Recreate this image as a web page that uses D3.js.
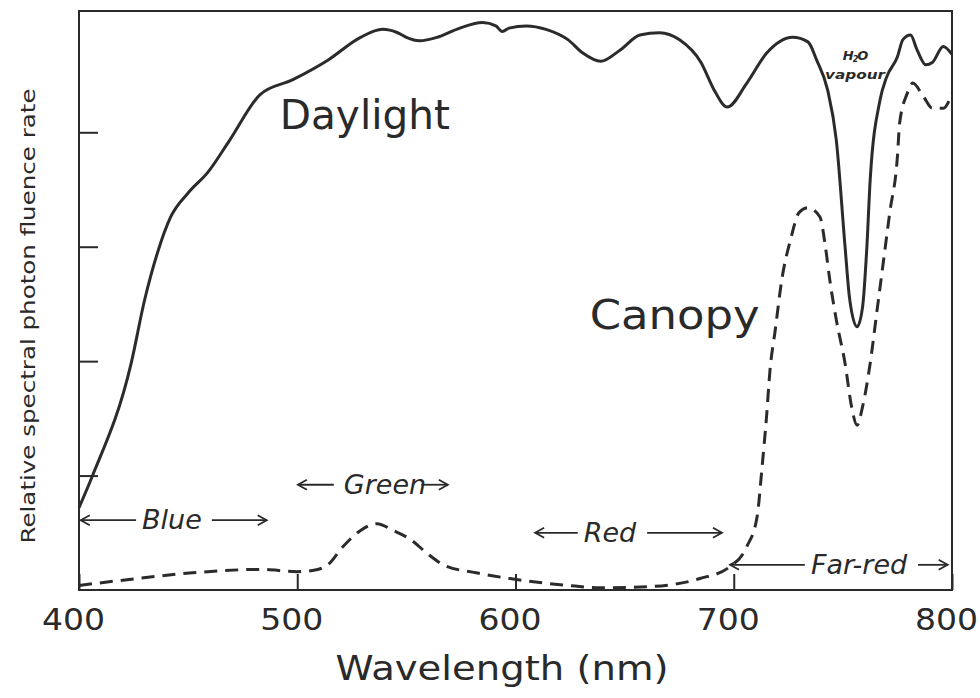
<!DOCTYPE html>
<html>
<head>
<meta charset="utf-8">
<script src="https://cdn.jsdelivr.net/npm/d3@7"></script>
<style>
    body { margin: 0; background: #ffffff; }
    svg { display: block; font-family: "DejaVu Sans", sans-serif; }
    .frame { fill: none; stroke: #2a2a2a; stroke-width: 2; }
    .axis path { display: none; }
    .axis line { stroke: #2a2a2a; stroke-width: 2; }
    .axis text { fill: #2a2a2a; font-size: 30px; font-family: "DejaVu Sans", sans-serif; }
    .daylight { fill: none; stroke: #2b2b2b; stroke-width: 3; }
    .canopy { fill: none; stroke: #2b2b2b; stroke-width: 3; stroke-dasharray: 13, 8; }
    .band { fill: #2a2a2a; font-size: 27px; font-style: italic; }
    .arrow { stroke: #2a2a2a; stroke-width: 1.8; fill: none; }
</style>
</head>
<body>
<div id="chart"></div>
<script>

/*  ****************
    DATA FROM THE PICTURE
    **************** */

// Daylight spectrum (solid line): wavelength in nm and relative value
var dayNm = [400, 406, 424, 430, 436, 442, 450, 459, 469, 483, 498, 514, 529, 539,
    546, 550, 556, 564, 573, 585, 591, 594, 597, 605, 614, 624, 631, 639, 648, 657,
    666, 675, 685, 691, 697, 706, 715, 727, 734, 738, 743, 747, 751, 753, 756.5,
    759, 761, 762.5, 767, 770, 775, 777.5, 781, 784, 788, 791, 796, 800];
var dayVal = [0.72, 0.99, 1.99, 2.53, 2.95, 3.26, 3.47, 3.65, 3.93, 4.33, 4.46, 4.63, 4.83, 4.90,
    4.87, 4.83, 4.80, 4.83, 4.90, 4.96, 4.93, 4.88, 4.91, 4.93, 4.90, 4.81, 4.69, 4.62, 4.72, 4.85,
    4.87, 4.81, 4.61, 4.37, 4.22, 4.43, 4.69, 4.83, 4.79, 4.63, 4.37, 3.93, 3.00, 2.56, 2.30,
    2.47, 3.00, 3.58, 4.28, 4.48, 4.66, 4.81, 4.85, 4.72, 4.59, 4.61, 4.75, 4.68];

// Canopy spectrum (dashed line)
var canNm = [400, 422, 452, 483, 500, 507, 514, 521, 529, 536.5, 544, 552, 559.5, 567,
    582, 597.5, 624, 639, 662, 684.5, 698, 706, 710.7, 713, 715, 716.6, 719, 722, 726,
    730, 734, 739.5, 742, 744, 747, 751, 754, 756.5, 759, 762.5, 765.5, 768.5, 771.5,
    775, 776, 779.5, 782, 787, 791, 796, 800];
var canVal = [0.04, 0.09, 0.15, 0.18, 0.16, 0.17, 0.22, 0.38, 0.52, 0.58, 0.52, 0.44, 0.32, 0.22,
    0.15, 0.10, 0.04, 0.02, 0.03, 0.10, 0.20, 0.38, 0.64, 1.08, 1.51, 1.92, 2.27, 2.71, 3.06,
    3.30, 3.34, 3.26, 3.00, 2.71, 2.36, 1.98, 1.60, 1.44, 1.60, 1.98, 2.42, 2.86, 3.30,
    3.79, 4.08, 4.34, 4.43, 4.31, 4.21, 4.21, 4.34];

// Axis ticks
var xTicks = [400, 500, 600, 700, 800];
var yTicks = [1, 2, 3, 4];

// Colour bands: label, left arrow tip, right arrow tip (nm), label centre (nm), height
var bandNames = ["Blue", "Green", "Red", "Far-red"];
var bandFrom = [400.8, 500.3, 609, 698.3];
var bandTo = [486, 569, 694.6, 798];
var bandTextNm = [442.6, 540.2, 643.3, 757.4];
var bandLevel = [0.61, 0.92, 0.50, 0.22];

/*  *********************************************
    CREATE THE SVG AND CONFIGURE IT FOR THE CHART
    ********************************************* */

var svgWidth = 980;
var svgHeight = 698;

var chartMarg = {
    top: 11,
    bottom: 108,
    right: 28,
    left: 79,
};

var chartWidth = svgWidth - chartMarg.left - chartMarg.right;
var chartHeight = svgHeight - chartMarg.top - chartMarg.bottom;

var svg = d3
    .select("#chart")
    .append("svg")
    .attr("width", svgWidth)
    .attr("height", svgHeight);

var chartGroup = svg.append("g")
    .attr("transform", `translate(${chartMarg.left}, ${chartMarg.top})`);

// Scales
var xScale = d3.scaleLinear().domain([400, 800]).range([0, chartWidth]);
var yScale = d3.scaleLinear().domain([0, 5.06]).range([chartHeight, 0]);

/*  **************************
    AXES AND FRAME
    ************************** */

chartGroup.append("g")
    .attr("class", "axis")
    .attr("transform", `translate(0, ${chartHeight})`)
    .call(d3.axisBottom(xScale).tickValues(xTicks).tickSize(-16).tickPadding(19).tickFormat(d3.format("d")))
    .selectAll("text")
    .attr("x", -6)
    .attr("textLength", 63)
    .attr("lengthAdjust", "spacingAndGlyphs");

chartGroup.append("g")
    .attr("class", "axis")
    .call(d3.axisLeft(yScale).tickValues(yTicks).tickSize(-19).tickFormat(""));

chartGroup.append("rect")
    .attr("class", "frame")
    .attr("x", 0)
    .attr("y", 0)
    .attr("width", chartWidth)
    .attr("height", chartHeight);

// Axis titles
svg.append("text")
    .attr("x", 502)
    .attr("y", 680)
    .attr("text-anchor", "middle")
    .attr("font-size", 34)
    .attr("fill", "#2a2a2a")
    .attr("textLength", 333)
    .attr("lengthAdjust", "spacingAndGlyphs")
    .text("Wavelength (nm)");

svg.append("text")
    .attr("transform", "translate(35, 316) rotate(-90)")
    .attr("text-anchor", "middle")
    .attr("font-size", 20)
    .attr("fill", "#2a2a2a")
    .attr("textLength", 455)
    .attr("lengthAdjust", "spacingAndGlyphs")
    .text("Relative spectral photon fluence rate");

/*  **************************
    PLOT THE TWO SPECTRA
    ************************** */

var line = d3.line()
    .x(d => xScale(d[0]))
    .y(d => yScale(d[1]))
    .curve(d3.curveMonotoneX);

chartGroup.append("path")
    .datum(d3.zip(dayNm, dayVal))
    .attr("class", "daylight")
    .attr("d", line);

chartGroup.append("path")
    .datum(d3.zip(canNm, canVal))
    .attr("class", "canopy")
    .attr("d", line);

// Curve labels
chartGroup.append("text")
    .attr("x", xScale(492))
    .attr("y", yScale(4.03))
    .attr("font-size", 41)
    .attr("fill", "#2a2a2a")
    .attr("textLength", 170)
    .attr("lengthAdjust", "spacingAndGlyphs")
    .text("Daylight");

chartGroup.append("text")
    .attr("x", xScale(634))
    .attr("y", yScale(2.28))
    .attr("font-size", 41)
    .attr("fill", "#2a2a2a")
    .attr("textLength", 170)
    .attr("lengthAdjust", "spacingAndGlyphs")
    .text("Canopy");

// H2O vapour note
var h2o = chartGroup.append("text")
    .attr("x", xScale(755.6))
    .attr("y", yScale(4.63))
    .attr("text-anchor", "middle")
    .attr("font-size", 13)
    .attr("font-weight", "bold")
    .attr("font-style", "italic")
    .attr("fill", "#2a2a2a")
    .attr("letter-spacing", -1);
h2o.append("tspan").text("H");
h2o.append("tspan").attr("font-size", 8).attr("dy", 2).text("2");
h2o.append("tspan").attr("dy", -2).text("O");

chartGroup.append("text")
    .attr("x", xScale(755.6))
    .attr("y", yScale(4.47))
    .attr("text-anchor", "middle")
    .attr("font-size", 13)
    .attr("font-weight", "bold")
    .attr("font-style", "italic")
    .attr("fill", "#2a2a2a")
    .attr("textLength", 60)
    .attr("lengthAdjust", "spacingAndGlyphs")
    .text("vapour");

/*  **************************
    COLOUR BAND ARROWS
    ************************** */

var bandText = chartGroup.selectAll(".band")
    .data(bandNames)
    .enter()
    .append("text")
    .attr("class", "band")
    .attr("x", (d, i) => xScale(bandTextNm[i]))
    .attr("y", (d, i) => yScale(bandLevel[i]) + 9)
    .attr("text-anchor", "middle")
    .text(d => d);

// Work out where each label sits so the arrow shafts stop short of it
bandText.each(function(d, i) {
    var box = this.getBBox();
    var y = yScale(bandLevel[i]);
    var x0 = xScale(bandFrom[i]);
    var x1 = xScale(bandTo[i]);
    var gapL = i === 1 ? 10 : 6;
    var gapR = i === 1 ? -5 : 10;
    var g = chartGroup.append("g").attr("class", "arrow");

    // left shaft and head
    g.append("line").attr("x1", x0).attr("y1", y).attr("x2", box.x - gapL).attr("y2", y);
    g.append("path").attr("d", `M${x0 + 9},${y - 5}L${x0},${y}L${x0 + 9},${y + 5}`);
    // right shaft and head
    g.append("line").attr("x1", box.x + box.width + gapR).attr("y1", y).attr("x2", x1).attr("y2", y);
    g.append("path").attr("d", `M${x1 - 9},${y - 5}L${x1},${y}L${x1 - 9},${y + 5}`);
});

</script>
</body>
</html>
